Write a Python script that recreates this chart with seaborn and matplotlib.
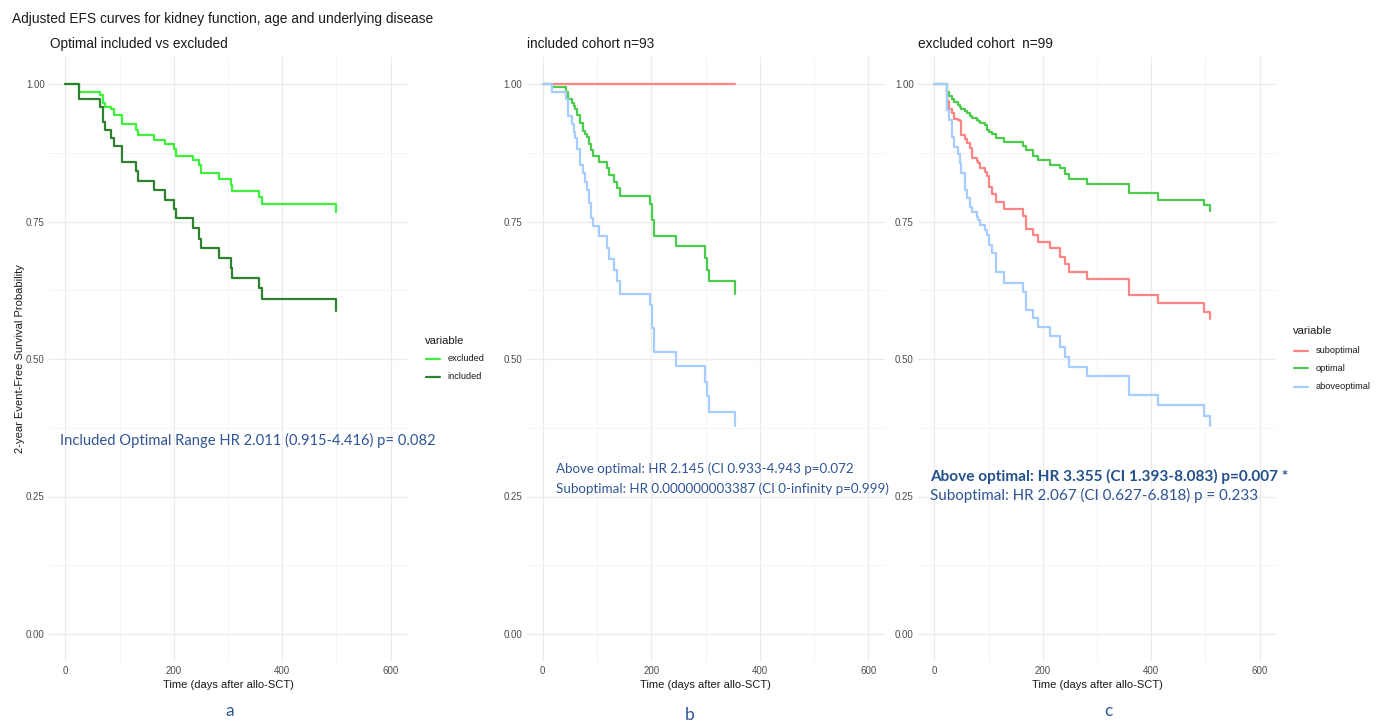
import matplotlib
matplotlib.use("Agg")
import matplotlib.pyplot as plt
import pandas as pd
import seaborn as sns
from matplotlib.lines import Line2D
from matplotlib.ticker import FixedLocator
from matplotlib import font_manager

# ---------------- data ----------------
# panel a: Optimal included vs excluded
a_time = [0, 26, 64, 69, 74, 85, 90, 105, 130, 134, 164, 184, 201, 205, 235, 247, 250,
          284, 305, 308, 357, 362, 500]
a_excluded = [1.0, 0.986, 0.980, 0.965, 0.959, 0.954, 0.944, 0.927, 0.916, 0.908, 0.898,
              0.891, 0.881, 0.869, 0.861, 0.853, 0.839, 0.828, 0.816, 0.806, 0.795, 0.782, 0.768]
a_included = [1.0, 0.972, 0.959, 0.931, 0.916, 0.901, 0.887, 0.859, 0.841, 0.824, 0.807,
              0.790, 0.772, 0.756, 0.738, 0.719, 0.701, 0.683, 0.665, 0.647, 0.629, 0.610, 0.588]

# panel b: included cohort n=93
b_time = [0, 17, 43, 47, 54, 57, 60, 63, 69, 74, 78, 81, 85, 89, 93, 103, 118, 123, 131,
          137, 143, 197, 202, 205, 245, 299, 302, 307, 355]
b_suboptimal = [1.0, 1.0, 1.0, 1.0, 1.0, 1.0, 1.0, 1.0, 1.0, 1.0, 1.0, 1.0, 1.0, 1.0, 1.0,
                1.0, 1.0, 1.0, 1.0, 1.0, 1.0, 1.0, 1.0, 1.0, 1.0, 1.0, 1.0, 1.0, 1.0]
b_optimal = [1.0, 0.994, 0.986, 0.972, 0.966, 0.960, 0.954, 0.944, 0.930, 0.915, 0.909,
             0.904, 0.891, 0.880, 0.869, 0.859, 0.847, 0.835, 0.822, 0.810, 0.796, 0.782,
             0.753, 0.724, 0.705, 0.683, 0.662, 0.641, 0.618]
b_aboveoptimal = [1.0, 0.985, 0.972, 0.941, 0.928, 0.913, 0.901, 0.881, 0.853, 0.838, 0.822,
                  0.808, 0.783, 0.756, 0.742, 0.724, 0.701, 0.681, 0.662, 0.641, 0.619, 0.598,
                  0.556, 0.512, 0.487, 0.459, 0.433, 0.404, 0.378]

# panel c: excluded cohort n=99
c_time = [0, 24, 28, 32, 36, 44, 47, 50, 56, 61, 66, 70, 78, 81, 85, 93, 97, 101, 106, 113,
          128, 164, 170, 182, 191, 213, 232, 241, 249, 281, 359, 413, 498, 509]
c_suboptimal = [1.0, 0.970, 0.955, 0.947, 0.936, 0.934, 0.932, 0.907, 0.900, 0.892, 0.883,
                0.865, 0.860, 0.856, 0.847, 0.840, 0.832, 0.813, 0.800, 0.786, 0.772, 0.760,
                0.736, 0.725, 0.712, 0.701, 0.686, 0.673, 0.659, 0.645, 0.616, 0.602, 0.586, 0.572]
c_optimal = [1.0, 0.985, 0.978, 0.972, 0.968, 0.961, 0.958, 0.955, 0.951, 0.947, 0.942,
             0.939, 0.934, 0.932, 0.929, 0.926, 0.917, 0.913, 0.909, 0.901, 0.895, 0.888,
             0.880, 0.870, 0.862, 0.853, 0.847, 0.836, 0.828, 0.818, 0.801, 0.790, 0.780, 0.770]
c_aboveoptimal = [1.0, 0.953, 0.935, 0.904, 0.886, 0.872, 0.857, 0.838, 0.807, 0.792, 0.777,
                  0.768, 0.759, 0.752, 0.744, 0.735, 0.725, 0.708, 0.692, 0.659, 0.638, 0.621,
                  0.590, 0.574, 0.558, 0.541, 0.522, 0.503, 0.486, 0.469, 0.435, 0.416, 0.396, 0.378]

x_ticks = [0, 200, 400, 600]
x_tick_labels = ["0", "200", "400", "600"]
x_minor = [100, 300, 500]
y_ticks = [0.0, 0.25, 0.5, 0.75, 1.0]
y_tick_labels = ["0.00", "0.25", "0.50", "0.75", "1.00"]
y_minor = [0.125, 0.375, 0.625, 0.875]

title = "Adjusted EFS curves for kidney function, age and underlying disease"
subtitles = ["Optimal included vs excluded", "included cohort n=93", "excluded cohort  n=99"]
xlabel = "Time (days after allo-SCT)"
ylabel = "2-year Event-Free Survival Probability"
note_a = "Included Optimal Range HR 2.011 (0.915-4.416) p= 0.082"
note_b1 = "Above optimal: HR 2.145 (CI 0.933-4.943 p=0.072"
note_b2 = "Suboptimal: HR 0.000000003387 (CI 0-infinity p=0.999)"
note_c1 = "Above optimal: HR 3.355 (CI 1.393-8.083) p=0.007 *"
note_c2 = "Suboptimal: HR 2.067 (CI 0.627-6.818) p = 0.233"
panel_letters = ["a", "b", "c"]

groups_a = ["excluded", "included"]
groups_bc = ["suboptimal", "optimal", "aboveoptimal"]
pal_a = {"excluded": "#3cf03c", "included": "#2e822e"}
pal_bc = {"suboptimal": "#ff8585", "optimal": "#4ccc4c", "aboveoptimal": "#a6cdff"}

# ---------------- style ----------------
sns.set_theme(style="white")
plt.rcParams["font.family"] = ["Liberation Sans", "DejaVu Sans"]
names = {f.name for f in font_manager.fontManager.ttflist}
note_family = ["Lato", "Liberation Sans"] if "Lato" in names else ["Liberation Sans", "DejaVu Sans"]
note_color = "#2f5597"

W, H = 1378, 722
fig = plt.figure(figsize=(W / 100, H / 100), dpi=100)


def fx(px):
    return px / W


def fy(py):
    return 1 - py / H


panel_left = [49, 526.5, 918]
panel_w = 358
panel_top, panel_bot = 56.5, 661.5
axes = []
for L in panel_left:
    ax = fig.add_axes([fx(L), fy(panel_bot), panel_w / W, (panel_bot - panel_top) / H])
    axes.append(ax)


def long_df(time, series, names_):
    rows = []
    for name, vals in zip(names_, series):
        for t, s in zip(time, vals):
            rows.append({"time": t, "surv": s, "variable": name})
    return pd.DataFrame(rows)


df_a = long_df(a_time, [a_excluded, a_included], groups_a)
df_b = long_df(b_time, [b_suboptimal, b_optimal, b_aboveoptimal], groups_bc)
df_c = long_df(c_time, [c_suboptimal, c_optimal, c_aboveoptimal], groups_bc)

for ax, df, order, pal in [(axes[0], df_a, groups_a, pal_a),
                           (axes[1], df_b, groups_bc, pal_bc),
                           (axes[2], df_c, groups_bc, pal_bc)]:
    sns.lineplot(data=df, x="time", y="surv", hue="variable", hue_order=order,
                 palette=pal, estimator=None, sort=False, drawstyle="steps-post",
                 lw=1.6, legend=False, ax=ax)
    ax.set_xlim(-30, 630)
    ax.set_ylim(-0.05, 1.05)
    ax.xaxis.set_major_locator(FixedLocator(x_ticks))
    ax.xaxis.set_minor_locator(FixedLocator(x_minor))
    ax.yaxis.set_major_locator(FixedLocator(y_ticks))
    ax.yaxis.set_minor_locator(FixedLocator(y_minor))
    ax.set_xticklabels(x_tick_labels)
    ax.set_yticklabels(y_tick_labels)
    ax.grid(which="major", color="#ebebeb", lw=0.9)
    ax.grid(which="minor", color="#f2f2f2", lw=0.6)
    ax.set_axisbelow(True)
    ax.tick_params(which="both", length=0, labelsize=7, labelcolor="#4d4d4d", pad=3)
    for s in ax.spines.values():
        s.set_visible(False)
    ax.set_xlabel(xlabel, fontsize=8, color="#1a1a1a", labelpad=3)
    ax.set_ylabel("")

axes[0].set_ylabel(ylabel, fontsize=8, color="#1a1a1a", labelpad=1)

# titles
fig.text(fx(12), fy(19), title, fontsize=9.9, color="#1a1a1a", va="center", ha="left")
for L, st in zip([50, 527, 918], subtitles):
    fig.text(fx(L), fy(44), st, fontsize=9.8, color="#1a1a1a", va="center", ha="left")

# legends (manual, ggplot style)
def legend(x_title, y_title, ys, labels, pal):
    fig.text(fx(x_title), fy(y_title), "variable", fontsize=8, color="#1a1a1a",
             va="center", ha="left")
    for y, lab in zip(ys, labels):
        fig.add_artist(Line2D([fx(x_title + 1.5), fx(x_title + 15.5)], [fy(y), fy(y)],
                              transform=fig.transFigure, color=pal[lab], lw=1.6))
        fig.text(fx(x_title + 23), fy(y), lab, fontsize=6.6, color="#1a1a1a",
                 va="center", ha="left")


legend(424.5, 340.5, [358.5, 376.5], groups_a, pal_a)
legend(1292.5, 330.5, [350.5, 368.5, 386.5], groups_bc, pal_bc)

# annotations
fig.text(fx(60), fy(440), note_a, family=note_family, fontsize=10.6, color=note_color,
         va="center", ha="left")
fig.text(fx(556), fy(469), note_b1, family=note_family, fontsize=9.6, color=note_color,
         va="center", ha="left")
fig.text(fx(556), fy(489), note_b2, family=note_family, fontsize=9.6, color=note_color,
         va="center", ha="left")
fig.text(fx(930), fy(476), note_c1, family=note_family, fontsize=11.1, color="#24508c",
         fontweight="bold", va="center", ha="left")
fig.text(fx(930), fy(495), note_c2, family=note_family, fontsize=10.9, color=note_color,
         va="center", ha="left")

for xx, yy, letter in zip([230, 690, 1108], [711, 715, 711], panel_letters):
    fig.text(fx(xx), fy(yy), letter, family=note_family, fontsize=12.5, color=note_color,
             va="center", ha="center")

fig.savefig("out.png", dpi=100, facecolor="white")
